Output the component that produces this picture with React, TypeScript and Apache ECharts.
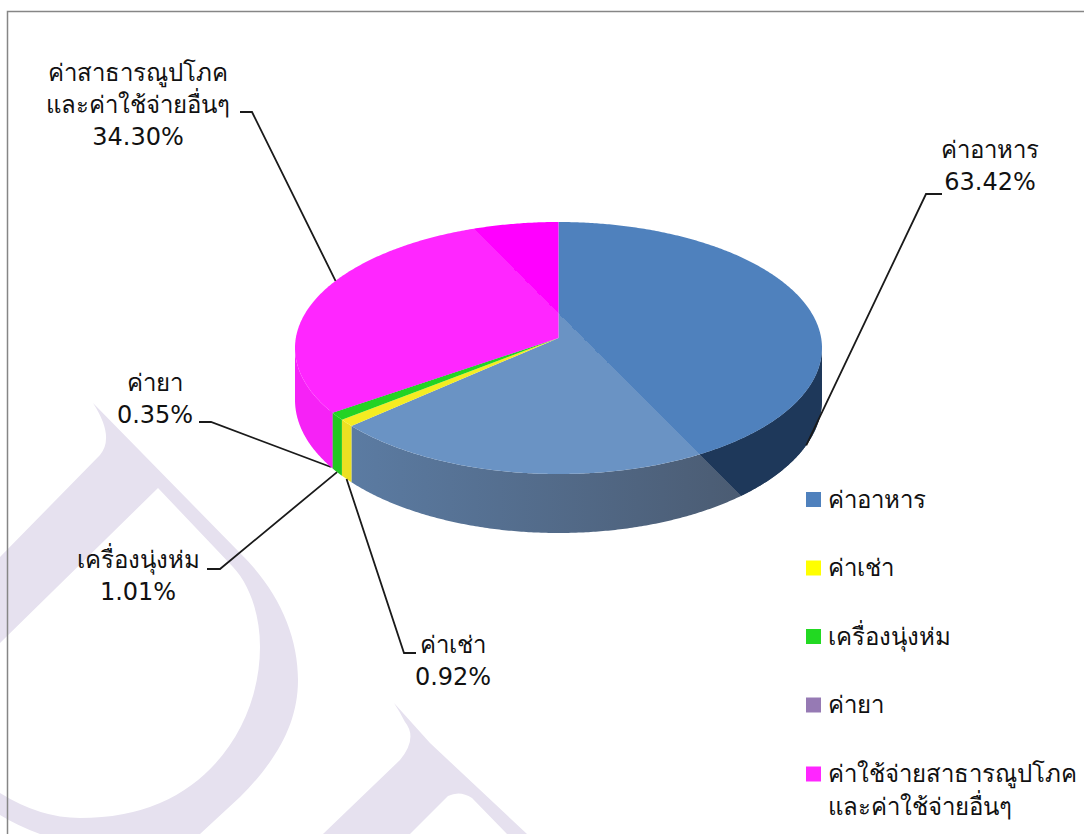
import React, { useEffect, useRef } from "react";
import * as echarts from "echarts";

const categories = ["ค่าอาหาร", "ค่าเช่า", "เครื่องนุ่งห่ม", "ค่ายา", "ค่าใช้จ่ายสาธารณูปโภค"];
const legendExtraLine = "และค่าใช้จ่ายอื่นๆ";
const labelNames = ["ค่าอาหาร", "ค่าเช่า", "เครื่องนุ่งห่ม", "ค่ายา", "ค่าสาธารณูปโภค\nและค่าใช้จ่ายอื่นๆ"];
const values = [63.42, 0.92, 1.01, 0.35, 34.3];

const legendColors = ["#4f81bd", "#ffff00", "#22d922", "#967ab4", "#ff26ff"];
const topLight = ["#6a93c4", "#f5ec22", "#24d324", "#967ab4", "#ff26ff"];
const topDark = ["#4f81bd", "#f5ec22", "#24d324", "#967ab4", "#ff00ff"];
const sideLeft = ["#5b7ba2", "#ece022", "#22c822", "#7d65a0", "#f622f6"];
const sideRight = ["#4a5a70", "#ece022", "#22c822", "#7d65a0", "#f622f6"];

// [text centre x, text centre y, elbow start x, elbow x, elbow y]
const labelLayout = [
  [990, 166, 942, 926, 194],
  [453, 661, 416, 404, 653],
  [138, 576, 207, 220, 569],
  [155, 399, 199, 211, 422],
  [138, 105, 240, 252, 112],
];

const CX = 558.5, RX = 263.5, TOP_CY = 348, TOP_RY = 126, BOT_CY = 400, BOT_RY = 133, APEX_Y = 338;
const K = (APEX_Y - TOP_CY) / TOP_RY;
const total = values.reduce((a, b) => a + b, 0);
const starts: number[] = [];
values.reduce((acc, v, i) => { starts[i] = acc; return acc + v; }, 0);
const angleOf = (v: number) => (v / total) * 360;

// perspective projection of the pie's circle on to the top ellipse (angle clockwise from 12 o'clock)
function norm(deg: number) {
  const r = (deg * Math.PI) / 180;
  const u = Math.sin(r), v = -Math.cos(r);
  const d = 1 + K * v;
  return { X: (u * Math.sqrt(1 - K * K)) / d, Y: (v + K) / d };
}
const topPt = (deg: number) => { const n = norm(deg); return [CX + RX * n.X, TOP_CY + TOP_RY * n.Y]; };
const botPt = (deg: number) => { const n = norm(deg); return [CX + RX * n.X, BOT_CY + BOT_RY * n.Y]; };

const diag = (a: string, b: string) =>
  new echarts.graphic.LinearGradient(459, 414, 659, 214,
    [{ offset: 0, color: a }, { offset: 0.5, color: a }, { offset: 0.5, color: b }, { offset: 1, color: b }], true);
const horiz = (a: string, b: string) =>
  new echarts.graphic.LinearGradient(352, 0, 760, 0, [{ offset: 0, color: a }, { offset: 1, color: b }], true);

const renderSlice = (params: any) => {
  const i = params.seriesIndex;
  // the last slice's colour covers the tiny slice before it, as it does in the picture
  const from = angleOf(i === 4 ? starts[3] : starts[i]);
  const realFrom = angleOf(starts[i]);
  const to = realFrom + angleOf(values[i]);
  const arc: number[] = [];
  for (let a = from; a < to; a += 0.5) arc.push(a);
  arc.push(to);
  const children: any[] = [];
  const front = arc.filter((a) => norm(a).Y >= 0);
  if (front.length > 1) {
    const pts = [...front.map(topPt), ...front.slice().reverse().map(botPt)];
    children.push({ type: "polygon", shape: { points: pts }, style: { fill: horiz(sideLeft[i], sideRight[i]) } });
    if (i === 0) {
      children.push({
        type: "polygon", shape: { points: pts },
        style: { fill: diag("rgba(30,54,85,0)", "rgba(30,56,90,1)") },
      });
    }
  }
  children.push({
    type: "polygon",
    shape: { points: [[CX, APEX_Y], ...arc.map(topPt)] },
    style: { fill: diag(topLight[i], topDark[i]) },
  });
  const mid = realFrom + angleOf(values[i]) / 2;
  const anchor = norm(mid).Y >= 0 ? botPt(mid) : topPt(mid);
  const [tx, ty, sx, ex, ey] = labelLayout[i];
  children.push({
    type: "polyline",
    shape: { points: [[sx, ey], [ex, ey], anchor] },
    style: { stroke: "#1a1a1a", lineWidth: 1.8, fill: "none" },
  });
  children.push({
    type: "text",
    style: {
      text: `${labelNames[i]}\n${values[i].toFixed(2)}%`,
      x: tx, y: ty, align: "center", verticalAlign: "middle",
      fill: "#111", font: '24px "DejaVu Sans", sans-serif', lineHeight: 32,
    },
  });
  return { type: "group", children };
};

echarts.graphic.registerShape("wm1", echarts.graphic.extendPath(
  "M93,403 L240,553 C278,590 298,635 298,680 C298,725 275,762 240,797 L200,834 L40,834 Q18,826 0,815 L0,793 Q40,818 80,818 Q125,818 160,803 C225,775 260,710 260,647 C260,615 250,585 233,567 L158,488 L0,643 L0,557 L100,455 Q115,437 93,403 Z", {}));
echarts.graphic.registerShape("wm2", echarts.graphic.extendPath(
  "M394,703 L430,743 L527,834 L507,834 L472,798 Q460,790 448,796 L410,834 L323,834 L400,760 Q418,738 405,722 Q400,712 394,703 Z", {}));

export default function App() {
  const ref = useRef<HTMLDivElement>(null);
  useEffect(() => {
    document.body.style.margin = "0";
    const chart = echarts.init(ref.current!, null, { renderer: "svg" });
    const legendText = { color: "#111", fontSize: 24, fontFamily: '"DejaVu Sans", sans-serif', padding: [0, 0, 0, 2] };
    chart.setOption({
      animation: false,
      backgroundColor: "#fff",
      graphic: [
        { type: "wm1", z: -2, style: { fill: "#e6e1ef" } },
        { type: "wm2", z: -2, style: { fill: "#e6e1ef" } },
        { type: "polyline", z: -1, shape: { points: [[7.5, 834], [7.5, 11.5], [1084, 11.5]] }, style: { stroke: "#868686", lineWidth: 1.5, fill: "none" } },
      ],
      legend: [
        {
          data: categories.slice(0, 4), orient: "vertical", left: 801, top: 479.5, itemWidth: 15, itemHeight: 15,
          itemGap: 38.5, icon: "rect", selectedMode: false,
          textStyle: { ...legendText, lineHeight: 30 },
        },
        {
          data: [categories[4]], orient: "vertical", left: 801, top: 719.5, itemWidth: 15, itemHeight: 15,
          icon: "rect", selectedMode: false,
          formatter: (n: string) => `\n${n}\n${legendExtraLine}`,
          textStyle: { ...legendText, lineHeight: 33 },
        },
      ],
      series: categories.map((name, i) => ({
        type: "custom",
        name,
        coordinateSystem: "none",
        silent: true,
        itemStyle: { color: legendColors[i] },
        data: [[values[i]]],
        renderItem: renderSlice,
      })),
    });
    return () => chart.dispose();
  }, []);
  return <div ref={ref} style={{ position: "fixed", left: 0, top: 0, width: 1084, height: 834, overflow: "hidden" }} />;
}
